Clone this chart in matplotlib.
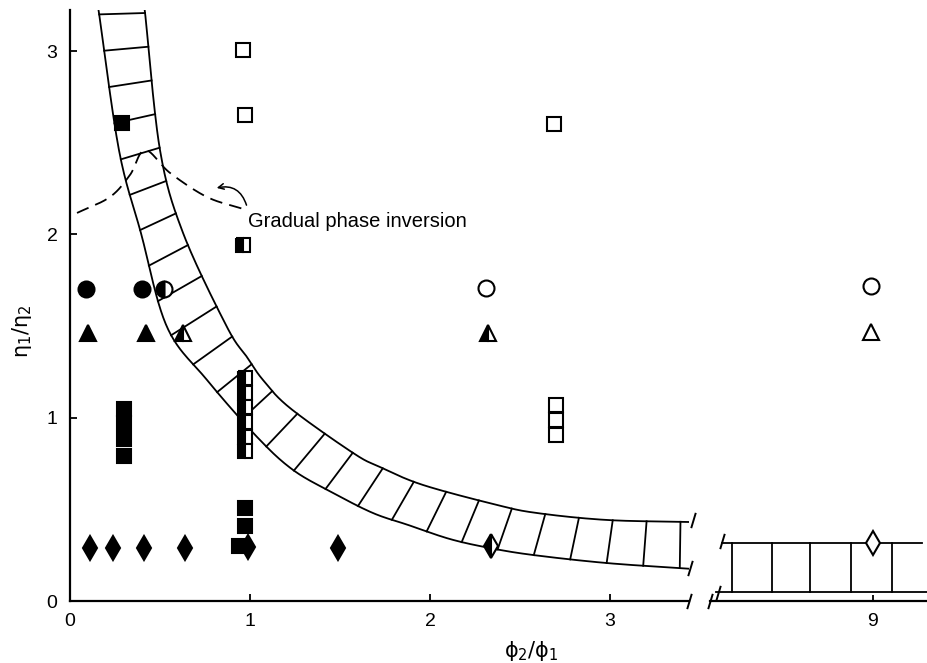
import numpy as np
import matplotlib
matplotlib.use("Agg")
import matplotlib.pyplot as plt

plt.rcParams['font.family'] = ['Liberation Sans', 'DejaVu Sans']

# ---- data ----
# band (region of phase inversion), left part of the broken x axis
band_in_x = [0.150, 0.161, 0.272, 0.394, 0.539, 0.761, 1.039, 1.239, 1.461, 1.683, 1.878, 2.111, 2.333, 2.572, 2.983, 3.440]
band_in_y = [3.260, 3.208, 2.460, 2.008, 1.495, 1.206, 0.895, 0.715, 0.590, 0.480, 0.415, 0.338, 0.289, 0.251, 0.207, 0.176]
band_out_x = [0.406, 0.417, 0.500, 0.628, 0.872, 0.983, 1.072, 1.222, 1.572, 1.722, 1.961, 2.372, 2.594, 2.983, 3.440]
band_out_y = [3.260, 3.208, 2.460, 2.008, 1.495, 1.331, 1.206, 1.053, 0.808, 0.731, 0.633, 0.524, 0.480, 0.442, 0.431]

# band on the right part (around phi2/phi1 = 9)
band2_top = 0.316
band2_bot = 0.049
band2_x = [8.161, 9.272]
band2_bot_x = [8.128, 9.31]
band2_rungs = [8.217, 8.439, 8.650, 8.878, 9.106]

# dashed "gradual phase inversion" curve
gpi_x = [0.039, 0.222, 0.333, 0.417, 0.556, 0.761, 0.961]
gpi_y = [2.117, 2.204, 2.324, 2.460, 2.335, 2.204, 2.139]

# squares
sq_fill_x = [0.29, 0.30, 0.30, 0.30, 0.30, 0.97, 0.97, 0.94]
sq_fill_y = [2.61, 1.047, 0.971, 0.884, 0.791, 0.505, 0.41, 0.30]
sq_half_x = [0.97, 0.97, 0.97, 0.97, 0.97, 0.97, 0.96]
sq_half_y = [1.219, 1.137, 1.056, 0.974, 0.892, 0.816, 1.94]
sq_open_x = [0.96, 0.97, 2.69, 2.70, 2.70, 2.70]
sq_open_y = [3.005, 2.65, 2.60, 1.067, 0.987, 0.908]

# circles
ci_fill_x = [0.09, 0.40]
ci_fill_y = [1.70, 1.70]
ci_half_x = [0.52]
ci_half_y = [1.70]
ci_open_x = [2.31]
ci_open_y = [1.71]
ci_open9_x = [8.99]
ci_open9_y = [1.716]

# triangles
tr_fill_x = [0.10, 0.42]
tr_fill_y = [1.46, 1.46]
tr_half_x = [0.63, 2.32]
tr_half_y = [1.46, 1.46]
tr_open9_x = [8.99]
tr_open9_y = [1.47]

# diamonds
di_fill_x = [0.11, 0.24, 0.41, 0.64, 0.99, 1.49]
di_fill_y = [0.29, 0.29, 0.29, 0.29, 0.295, 0.29]
di_half_x = [2.34]
di_half_y = [0.30]
di_open9_x = [9.0]
di_open9_y = [0.316]

x_ticks_left = [0, 1, 2, 3]
y_ticks = [0, 1, 2, 3]
x_ticks_right = [9]

PX_X = 180.0
PX_Y = 183.3


def smooth(xs, ys, n=25):
    """Catmull-Rom curve through the read points."""
    pts = np.column_stack([xs, ys])
    p = np.vstack([2 * pts[0] - pts[1], pts, 2 * pts[-1] - pts[-2]])
    out = []
    t = np.linspace(0, 1, n, endpoint=False)[:, None]
    for i in range(1, len(p) - 2):
        p0, p1, p2, p3 = p[i - 1], p[i], p[i + 1], p[i + 2]
        seg = 0.5 * (2 * p1 + (-p0 + p2) * t + (2 * p0 - 5 * p1 + 4 * p2 - p3) * t ** 2
                     + (-p0 + 3 * p1 - 3 * p2 + p3) * t ** 3)
        out.append(seg)
    out.append(pts[-1:])
    return np.vstack(out)


def arc_points(curve, s_frac):
    """points on a curve at given fractions of its (pixel) length"""
    d = np.hypot(np.diff(curve[:, 0]) * PX_X, np.diff(curve[:, 1]) * PX_Y)
    s = np.concatenate([[0], np.cumsum(d)])
    s = s / s[-1]
    return np.interp(s_frac, s, curve[:, 0]), np.interp(s_frac, s, curve[:, 1])


def break_mark(ax, x, y):
    ax.plot(x, y, ls='none', marker=[(-0.3, -1), (0.3, 1)], ms=11,
            mec='black', mew=1.4, clip_on=False, zorder=6)


fig = plt.figure(figsize=(9.28, 6.63), dpi=100)
W, H = 928.0, 663.0
ax1 = fig.add_axes([70 / W, 62 / H, 619 / W, 591 / H])
ax2 = fig.add_axes([710 / W, 62 / H, 218 / W, 591 / H])

ylim = (0, 591 / PX_Y)
ax1.set_xlim(0, 619 / PX_X)
ax1.set_ylim(ylim)
ax2.set_xlim(9 - 163 / PX_X, 9 + 55 / PX_X)
ax2.set_ylim(ylim)

lw_band = 1.3

# left band with rungs
inner = smooth(band_in_x, band_in_y)
outer = smooth(band_out_x, band_out_y)
ax1.plot(inner[:, 0], inner[:, 1], color='black', lw=lw_band)
ax1.plot(outer[:, 0], outer[:, 1], color='black', lw=lw_band)
fr = np.linspace(0.02, 0.99, 26)
xi, yi = arc_points(inner, fr)
xo, yo = arc_points(outer, fr)
for a, b, c, d in zip(xi, yi, xo, yo):
    ax1.plot([a, c], [b, d], color='black', lw=lw_band)

# right band with rungs
ax2.plot(band2_x, [band2_top, band2_top], color='black', lw=lw_band)
ax2.plot(band2_bot_x, [band2_bot, band2_bot], color='black', lw=lw_band, clip_on=False)
for r in band2_rungs:
    ax2.plot([r, r], [band2_bot, band2_top], color='black', lw=lw_band)

# dashed curve and label
g = smooth(gpi_x, gpi_y)
ax1.plot(g[:, 0], g[:, 1], color='black', lw=1.3, dashes=(7, 4))
ax1.annotate('', xy=(0.80, 2.25), xytext=(0.985, 2.145),
             arrowprops=dict(arrowstyle='->', connectionstyle='arc3,rad=0.5',
                             lw=1.1, color='black'))
ax1.text(0.989, 2.073, 'Gradual phase inversion', fontsize=14.5, ha='left', va='center')

mk = dict(ls='none', mec='black', mew=1.5, zorder=5, clip_on=False)
half = dict(fillstyle='left', markerfacecolor='black', markerfacecoloralt='white')

ax1.plot(sq_fill_x, sq_fill_y, marker='s', ms=9.5, mfc='black', **mk)
ax1.plot(sq_half_x, sq_half_y, marker='s', ms=9.5, **half, **mk)
ax1.plot(sq_open_x, sq_open_y, marker='s', ms=9.5, mfc='white', **mk)
ax1.plot(ci_fill_x, ci_fill_y, marker='o', ms=11.5, mfc='black', **mk)
ax1.plot(ci_half_x, ci_half_y, marker='o', ms=11.5, **half, **mk)
ax1.plot(ci_open_x, ci_open_y, marker='o', ms=11.5, mfc='white', **mk)
ax1.plot(tr_fill_x, tr_fill_y, marker='^', ms=12, mfc='black', **mk)
ax1.plot(tr_half_x, tr_half_y, marker='^', ms=12, **half, **mk)
ax1.plot(di_fill_x, di_fill_y, marker='d', ms=12.5, mfc='black', **mk)
ax1.plot(di_half_x, di_half_y, marker='d', ms=12.5, **half, **mk)

ax2.plot(ci_open9_x, ci_open9_y, marker='o', ms=11.5, mfc='white', **mk)
ax2.plot(tr_open9_x, tr_open9_y, marker='^', ms=12, mfc='white', **mk)
ax2.plot(di_open9_x, di_open9_y, marker='d', ms=12.5, mfc='white', **mk)

# axes styling
for ax in (ax1, ax2):
    ax.spines['top'].set_visible(False)
    ax.spines['right'].set_visible(False)
    ax.spines['bottom'].set_linewidth(1.6)
    ax.patch.set_alpha(0)
ax1.spines['left'].set_linewidth(1.6)
ax2.spines['left'].set_visible(False)

ax1.set_xticks(x_ticks_left)
ax1.set_yticks(y_ticks)
ax2.set_xticks(x_ticks_right)
ax2.set_yticks([])
ax1.tick_params(axis='both', direction='in', length=5, width=1.3, labelsize=14)
ax1.tick_params(axis='x', pad=9)
ax1.tick_params(axis='y', pad=9)
ax2.tick_params(axis='x', direction='in', length=4, width=1.3, labelsize=14, pad=9)

# break marks
x_end = 619 / PX_X
break_mark(ax1, [x_end + 0.02, x_end + 0.005], [0.442, 0.18])
break_mark(ax1, [x_end], [0.0])
x_start = 9 - 163 / PX_X
break_mark(ax2, [8.16, 8.14], [band2_top + 0.01, band2_bot - 0.005])
break_mark(ax2, [x_start], [0.0])

fig.text(531 / W, 1 - 651 / H, r'$\mathrm{\phi_2/\phi_1}$', fontsize=15, ha='center', va='center')
fig.text(22 / W, 1 - 331 / H, r'$\mathrm{\eta_1/\eta_2}$', fontsize=15, ha='center', va='center',
         rotation=90)

plt.savefig('out.png', dpi=100)
